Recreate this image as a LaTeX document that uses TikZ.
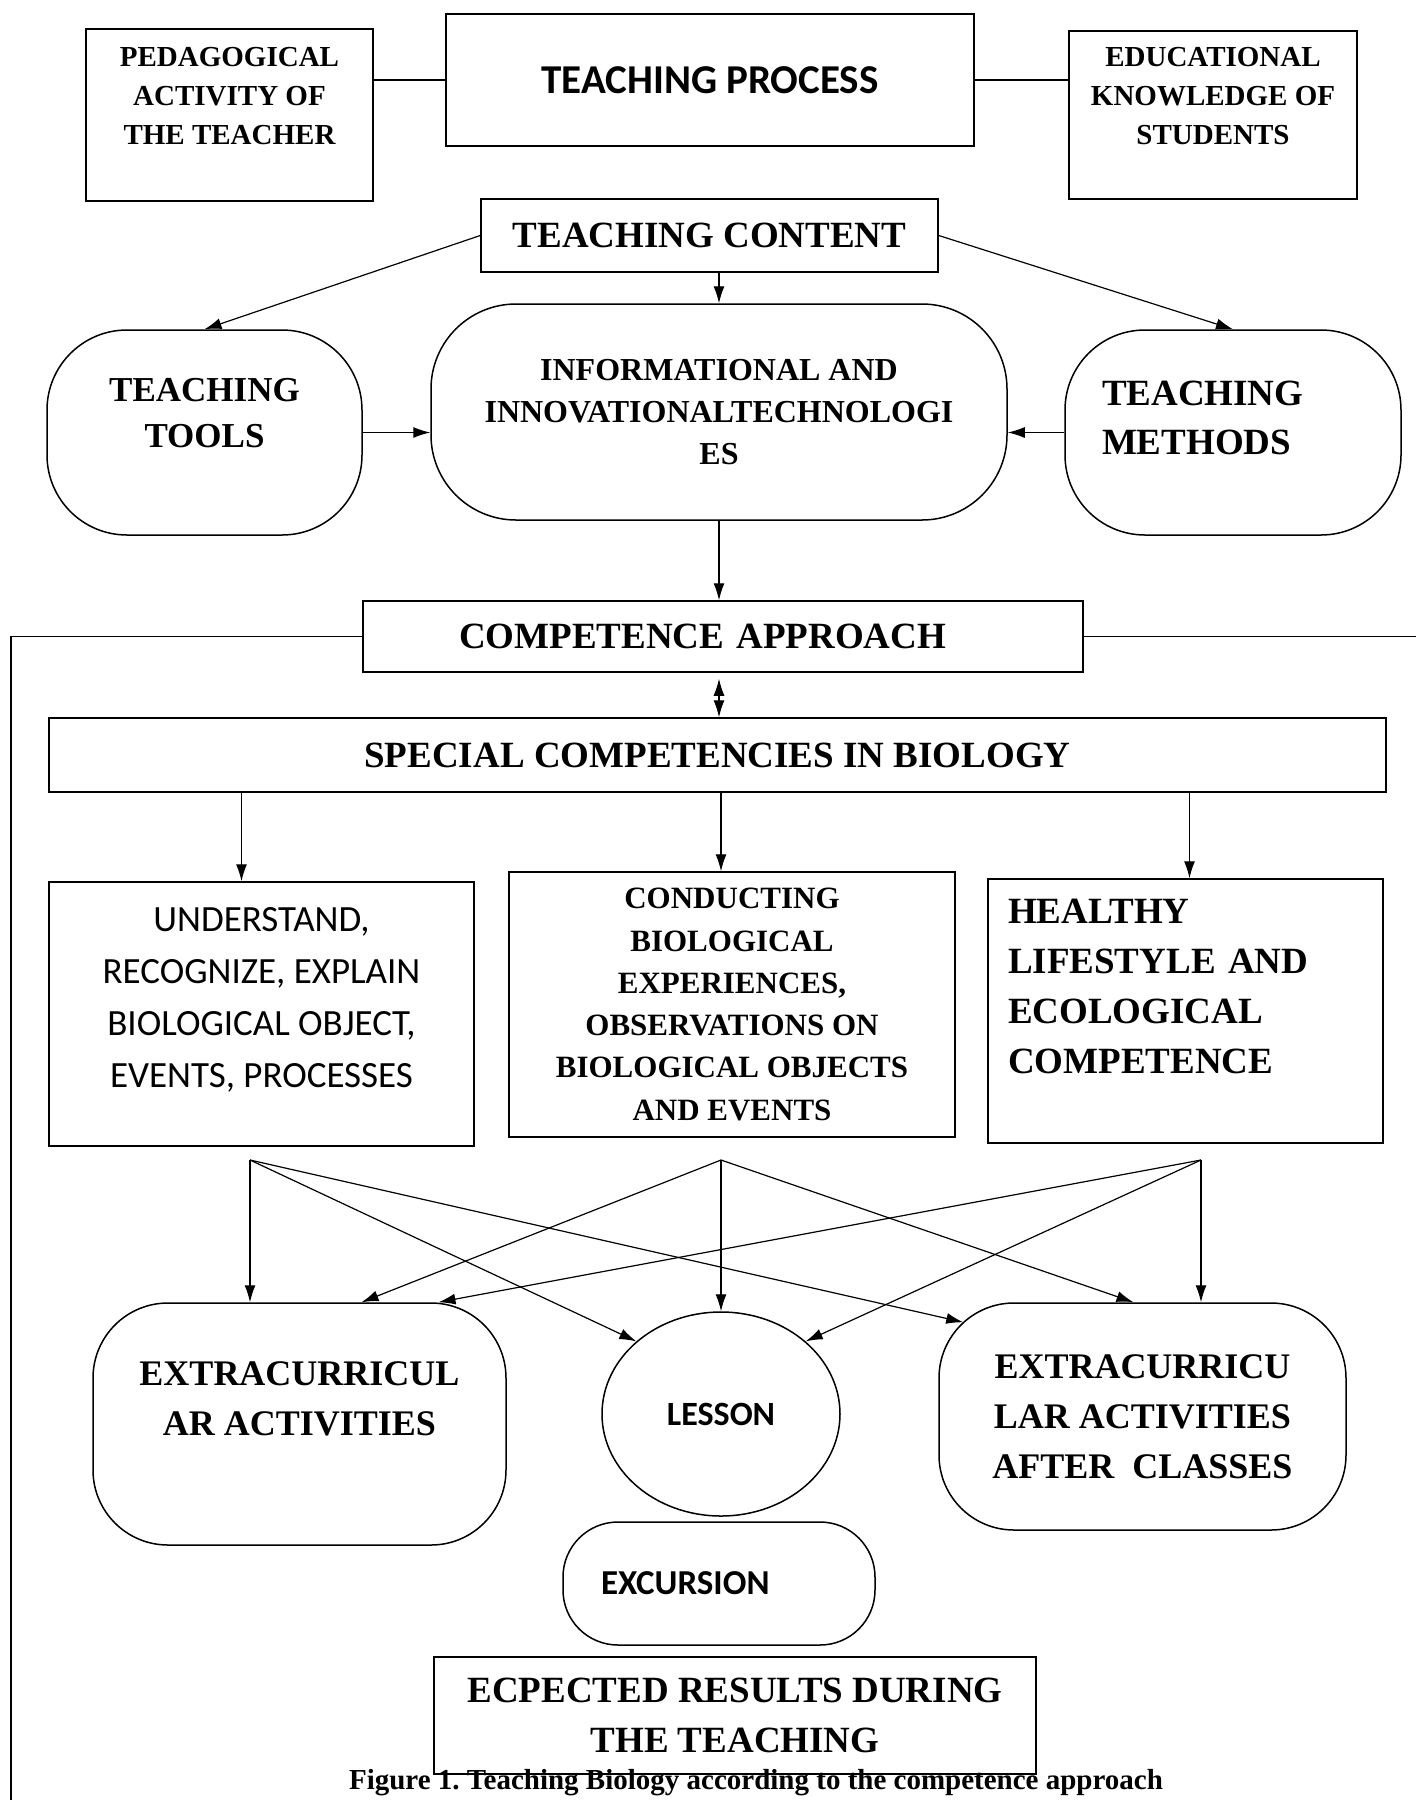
\documentclass[tikz,border=0pt]{standalone}
\usepackage{fontspec}
\setmainfont{Liberation Serif}
\newfontfamily\calibfont{Carlito}
\usepackage{tikz}
\usetikzlibrary{arrows.meta,shapes.geometric}
\newcommand{\serfont}[2]{\bfseries\fontsize{#1}{#2}\selectfont}
\newcommand{\sanfont}[2]{\calibfont\fontsize{#1}{#2}\selectfont}
\frenchspacing

\begin{document}
\begin{tikzpicture}[x=1pt,y=-1pt,
    box/.style={draw,line width=1.5pt,inner sep=0pt,align=center},
    rbox/.style={box,rounded corners=#1},
    arr/.style={line width=1.2pt,-{Latex[length=17pt,width=11pt]}},
    dbl/.style={line width=1.2pt,{Latex[length=17pt,width=11pt]}-{Latex[length=17pt,width=11pt]}}]
      \useasboundingbox (0,0) rectangle (1416,1800);
      % top row
      \node[box,minimum width=287pt,minimum height=172pt,font=\serfont{29}{39}] at (229.5,115) (ped) {PEDAGOGICAL\\ACTIVITY OF\\THE TEACHER\\\mbox{}};
      \node[box,minimum width=528pt,minimum height=132pt,font={\sanfont{41}{48}\bfseries}] at (710,80) (tp) {TEACHING PROCESS};
      \node[box,minimum width=288pt,minimum height=168pt,font=\serfont{29}{39}] at (1213,115) (edu) {EDUCATIONAL\\KNOWLEDGE OF\\STUDENTS\\\mbox{}};
      \node[box,minimum width=457pt,minimum height=73pt,font=\serfont{37}{44}] at (709.5,235.5) (tc) {TEACHING CONTENT};
      \node[rbox=80pt,minimum width=315pt,minimum height=205pt,font=\serfont{35}{46}] at (204.5,432.5) (tools) {TEACHING\\TOOLS\\[-6pt]\mbox{}};
      \node[rbox=85pt,minimum width=576pt,minimum height=216pt,font=\serfont{32}{42}] at (719,412) (info) {INFORMATIONAL AND\\INNOVATIONALTECHNOLOGI\\ES};
      \node[rbox=80pt,minimum width=336pt,minimum height=205pt,text width=262pt,align=left,font=\serfont{37}{49}] at (1233,432.5) (meth) {TEACHING\\METHODS\\[-20pt]\mbox{}};
      % competences
      \node[box,minimum width=720pt,minimum height=71pt,text width=528pt,align=left,font=\serfont{37}{44}] at (723,636.5) (ca) {COMPETENCE APPROACH};
      \node[box,minimum width=1337pt,minimum height=74pt,font=\serfont{37}{44}] at (717.5,755) (spec) {SPECIAL COMPETENCIES IN BIOLOGY};
      \node[box,minimum width=425pt,minimum height=264pt,font=\sanfont{37}{52}] at (261.5,1014) (und) {UNDERSTAND,\\RECOGNIZE, EXPLAIN\\BIOLOGICAL OBJECT,\\EVENTS, PROCESSES\\[-18pt]\mbox{}};
      \node[box,minimum width=446pt,minimum height=265pt,font=\serfont{31}{42.3}] at (732,1004.5) (cond) {CONDUCTING\\BIOLOGICAL\\EXPERIENCES,\\OBSERVATIONS ON\\BIOLOGICAL OBJECTS\\AND EVENTS};
      \node[box,minimum width=395pt,minimum height=264pt,text width=355pt,align=left,font=\serfont{37}{50}] at (1185.5,1011) (hl) {HEALTHY\\LIFESTYLE AND\\ECOLOGICAL\\COMPETENCE\\\mbox{}};
      % forms of work
      \node[rbox=75pt,minimum width=413pt,minimum height=242pt,font=\serfont{36}{50}] at (299.5,1424) (ex1) {EXTRACURRICUL\\AR ACTIVITIES\\\mbox{}};
      \node[draw,ellipse,line width=1.5pt,minimum width=238pt,minimum height=204pt,inner sep=0pt,font={\sanfont{34}{40}\bfseries}] at (721,1414) (les) {LESSON};
      \node[rbox=75pt,minimum width=407pt,minimum height=227pt,font=\serfont{36}{50}] at (1142.5,1416.5) (ex2) {EXTRACURRICU\\LAR ACTIVITIES\\AFTER\ \ CLASSES};
      \node[rbox=55pt,minimum width=312pt,minimum height=123pt,text width=236pt,align=left,font={\sanfont{35}{40}\bfseries}] at (719,1583.5) (exc) {EXCURSION};
      \node[box,minimum width=602pt,minimum height=117pt,font=\serfont{37}{50}] at (735,1715.5) (res) {ECPECTED RESULTS DURING\\THE TEACHING};
      \node[font=\serfont{29}{32}] at (756,1783) (cap) {Figure 1. Teaching Biology according to the competence approach};
      \coordinate (lcorner) at (11,636.5);
      \coordinate (lend) at (11,1800);
      \coordinate (rend) at (1416,636.5);
      \coordinate (s1) at (250,1160);
      \coordinate (s2) at (721,1160);
      \coordinate (s3) at (1201,1160);
      % connectors
      \draw[line width=1.5pt] (tp.west -| ped.east) -- (tp.west);
      \draw[line width=1.5pt] (tp.east) -- (tp.east -| edu.west);
      \draw[arr] (tc.west) -- (tools.north);
      \draw[arr] (tc.south -| info.north) -- (info.north);
      \draw[arr] (tc.east) -- (meth.north);
      \draw[arr] (tools.east) -- (tools.east -| info.west);
      \draw[arr] (meth.west) -- (meth.west -| info.east);
      \draw[arr] (info.south) -- (info.south |- ca.north);
      \draw[line width=1.5pt] (ca.west) -- (lcorner) -- (lend);
      \draw[line width=1.5pt] (ca.east) -- (rend);
      \draw[dbl,shorten <=6pt] (ca.south -| info.south) -- (info.south |- spec.north);
      \draw[arr] ([xshift=-20pt]spec.south -| und.north) -- ([xshift=-20pt]und.north);
      \draw[arr] ([xshift=-11pt]spec.south -| cond.north) -- ([xshift=-11pt]cond.north);
      \draw[arr] ([xshift=4pt]spec.south -| hl.north) -- ([xshift=4pt]hl.north);
      \draw[arr] (s1) -- (s1 |- ex1.north);
      \draw[arr] (s1) -- (les.north west);
      \draw[arr] (s1) -- ([xshift=25pt,yshift=-20pt]ex2.north west);
      \draw[arr] (s2) -- ([xshift=62pt]ex1.north);
      \draw[arr] (s2) -- (les.north);
      \draw[arr] (s2) -- ([xshift=-9pt]ex2.north);
      \draw[arr] (s3) -- (s3 |- ex2.north);
      \draw[arr] (s3) -- ([xshift=139pt]ex1.north);
      \draw[arr] (s3) -- (les.north east);
\end{tikzpicture}
\end{document}
